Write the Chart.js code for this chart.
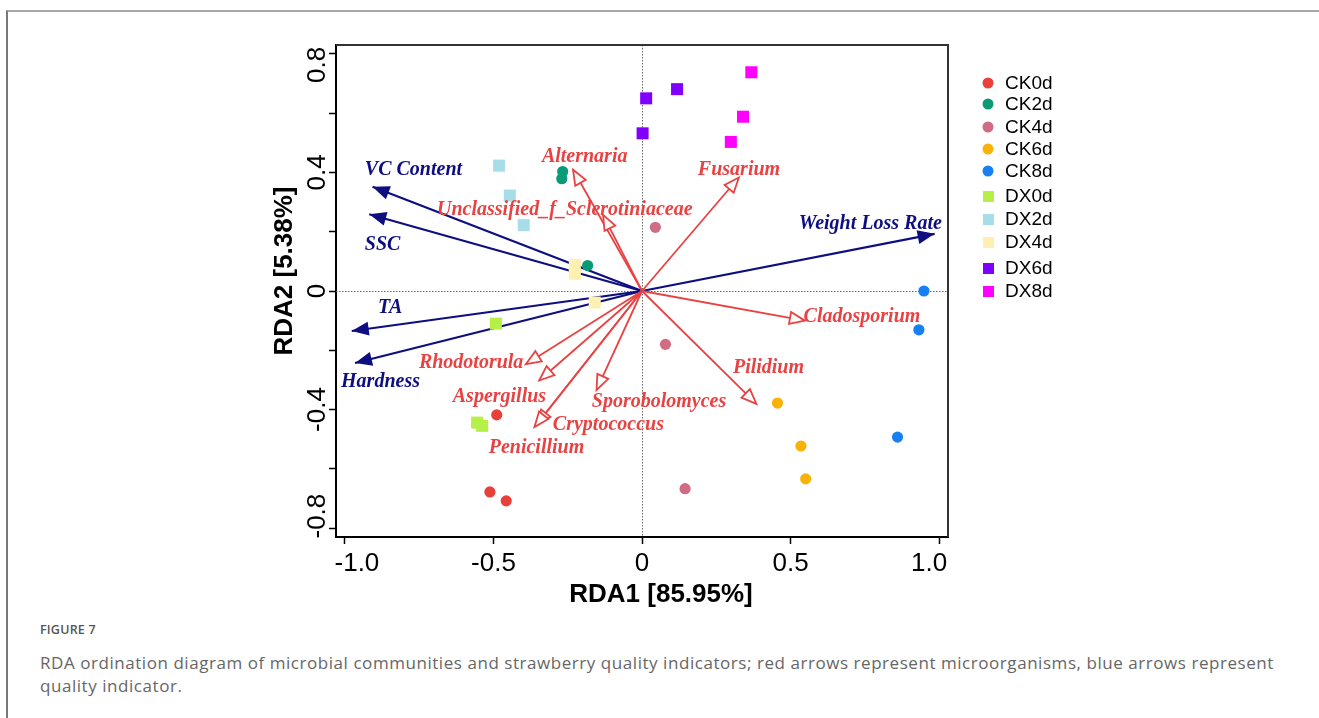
<!DOCTYPE html>
<html>
<head>
<meta charset="utf-8">
<script src="https://cdn.jsdelivr.net/npm/chart.js@4.4.0/dist/chart.umd.min.js"></script>
<style>
  html, body { margin: 0; padding: 0; background: #fff; }
  body { width: 1319px; height: 718px; position: relative; overflow: hidden; }
  #frame { position: absolute; left: 6px; top: 10px; right: 0; bottom: 0;
           border-top: 2px solid #a8a8a8; border-left: 2px solid #777; }
  #wrap { position: absolute; left: 0; top: 0; width: 1319px; height: 620px; }
  #fig { position: absolute; left: 40px; top: 621px; font: 600 12.5px "Open Sans", sans-serif;
         color: #555; letter-spacing: 0.2px; }
  #caption { position: absolute; left: 40px; top: 651px; font: 17px "Open Sans", sans-serif;
             color: #666; line-height: 23px; white-space: nowrap; letter-spacing: 0.55px; }
</style>
</head>
<body>
<div id="frame"></div>
<div id="wrap"><canvas id="rda" width="1319" height="620"></canvas></div>
<div id="fig">FIGURE 7</div>
<div id="caption">RDA ordination diagram of microbial communities and strawberry quality indicators; red arrows represent microorganisms, blue arrows represent<br>quality indicator.</div>
<script>
// Grupos de amostras (3 repetições cada)
const groups = ['CK0d', 'CK2d', 'CK4d', 'CK6d', 'CK8d', 'DX0d', 'DX2d', 'DX4d', 'DX6d', 'DX8d'];
const groupColors = ['#e8413c', '#0a9b76', '#cf6d85', '#f9b208', '#1780f2',
                     '#b6ef45', '#a6dde9', '#fdf0b0', '#7f00ff', '#ff00ff'];
const groupShapes = ['circle', 'circle', 'circle', 'circle', 'circle', 'rect', 'rect', 'rect', 'rect', 'rect'];

const sampleRDA1 = [
    [-0.489, -0.512, -0.457],
    [-0.267, -0.270, -0.183],
    [0.045, 0.079, 0.145],
    [0.456, 0.535, 0.551],
    [0.949, 0.932, 0.860],
    [-0.492, -0.555, -0.538],
    [-0.481, -0.445, -0.398],
    [-0.226, -0.226, -0.159],
    [0.014, 0.002, 0.118],
    [0.368, 0.340, 0.299]
];
const sampleRDA2 = [
    [-0.418, -0.678, -0.708],
    [0.403, 0.379, 0.086],
    [0.215, -0.180, -0.667],
    [-0.378, -0.523, -0.634],
    [0.000, -0.131, -0.493],
    [-0.110, -0.444, -0.455],
    [0.423, 0.322, 0.222],
    [0.088, 0.058, -0.039],
    [0.650, 0.532, 0.681],
    [0.738, 0.588, 0.503]
];

// Indicadores de qualidade (setas azuis)
const envVars = ['VC Content', 'SSC', 'TA', 'Hardness', 'Weight Loss Rate'];
const envRDA1 = [-0.907, -0.918, -0.977, -0.966, 0.985];
const envRDA2 = [0.352, 0.259, -0.135, -0.243, 0.193];

// Microrganismos (setas vermelhas)
const taxa = ['Alternaria', 'Unclassified_f_Sclerotiniaceae', 'Fusarium', 'Cladosporium', 'Pilidium',
              'Rhodotorula', 'Aspergillus', 'Sporobolomyces', 'Cryptococcus', 'Penicillium'];
const taxaRDA1 = [-0.232, -0.131, 0.326, 0.548, 0.385, -0.391, -0.346, -0.153, -0.355, -0.362];
const taxaRDA2 = [0.409, 0.257, 0.383, -0.100, -0.381, -0.247, -0.302, -0.334, -0.452, -0.459];

// Ticks
const xTickValues = [-1.0, -0.5, 0, 0.5, 1.0];
const yTickValues = [-0.8, -0.6, -0.4, -0.2, 0, 0.2, 0.4, 0.6, 0.8];
const yLabelValues = [-0.8, -0.4, 0, 0.4, 0.8];

// Onde ficam os rótulos (coordenadas do gráfico, canto esquerdo do texto)
const envLabelPos = [[-0.933, 0.408], [-0.933, 0.156], [-0.889, -0.057], [-1.013, -0.307], [0.528, 0.226]];
const taxaLabelPos = [[-0.337, 0.452], [-0.690, 0.274], [0.188, 0.409], [0.544, -0.087], [0.306, -0.259],
                      [-0.751, -0.242], [-0.637, -0.357], [-0.169, -0.374], [-0.300, -0.451], [-0.516, -0.529]];

const NAVY = '#0e0e80';
const RED = '#e84242';
const EDGE_NUDGE = 12; // rótulos das pontas ficam um pouco para dentro, como no original
const fmt = v => (v === 0 ? '0' : v.toFixed(1));

const datasets = [];
groups.forEach((g, i) => {
    datasets.push({
        label: g,
        data: sampleRDA1[i].map((x, k) => ({ x: x, y: sampleRDA2[i][k] })),
        pointStyle: groupShapes[i],
        pointRadius: groupShapes[i] === 'rect' ? 8.5 : 5.6,
        backgroundColor: groupColors[i],
        borderColor: groupColors[i],
        borderWidth: 0,
        order: 0
    });
});
envVars.forEach((v, i) => {
    datasets.push({
        label: v, arrow: 'env',
        data: [{ x: 0, y: 0 }, { x: envRDA1[i], y: envRDA2[i] }],
        showLine: true, pointRadius: 0, borderColor: NAVY, borderWidth: 2.2, order: 2
    });
});
taxa.forEach((t, i) => {
    datasets.push({
        label: t, arrow: 'taxa',
        data: [{ x: 0, y: 0 }, { x: taxaRDA1[i], y: taxaRDA2[i] }],
        showLine: true, pointRadius: 0, borderColor: RED, borderWidth: 1.8, order: 1
    });
});

function arrowHead(ctx, x0, y0, x1, y1, len, half, filled, color) {
    const a = Math.atan2(y1 - y0, x1 - x0);
    const bx = x1 - len * Math.cos(a), by = y1 - len * Math.sin(a);
    ctx.beginPath();
    ctx.moveTo(x1, y1);
    ctx.lineTo(bx - half * Math.sin(a), by + half * Math.cos(a));
    ctx.lineTo(bx + half * Math.sin(a), by - half * Math.cos(a));
    ctx.closePath();
    if (filled) {
        ctx.fillStyle = color;
        ctx.fill();
    } else {
        ctx.fillStyle = '#fff';
        ctx.fill();
        ctx.strokeStyle = color;
        ctx.lineWidth = 1.8;
        ctx.stroke();
    }
}

const rdaDecor = {
    id: 'rdaDecor',
    beforeDatasetsDraw(chart) {
        const { ctx, chartArea: ca, scales: { x, y } } = chart;
        ctx.save();
        ctx.strokeStyle = '#666';
        ctx.lineWidth = 1;
        ctx.setLineDash([1.5, 1.5]);
        const x0 = Math.round(x.getPixelForValue(0)) + 0.5;
        const y0 = Math.round(y.getPixelForValue(0)) + 0.5;
        ctx.beginPath();
        ctx.moveTo(ca.left, y0); ctx.lineTo(ca.right, y0);
        ctx.moveTo(x0, ca.top); ctx.lineTo(x0, ca.bottom);
        ctx.stroke();
        ctx.restore();
    },
    afterDatasetsDraw(chart) {
        const { ctx, scales: { x, y } } = chart;
        const ox = x.getPixelForValue(0), oy = y.getPixelForValue(0);
        ctx.save();
        envVars.forEach((v, i) => {
            arrowHead(ctx, ox, oy, x.getPixelForValue(envRDA1[i]), y.getPixelForValue(envRDA2[i]), 17, 7, true, NAVY);
        });
        taxa.forEach((t, i) => {
            arrowHead(ctx, ox, oy, x.getPixelForValue(taxaRDA1[i]), y.getPixelForValue(taxaRDA2[i]), 15, 6, false, RED);
        });
        ctx.font = 'bold italic 20px "Liberation Serif", "Times New Roman", serif';
        ctx.textAlign = 'left';
        ctx.textBaseline = 'middle';
        ctx.fillStyle = NAVY;
        envVars.forEach((v, i) => {
            ctx.fillText(v, x.getPixelForValue(envLabelPos[i][0]), y.getPixelForValue(envLabelPos[i][1]));
        });
        ctx.fillStyle = RED;
        taxa.forEach((t, i) => {
            ctx.fillText(t, x.getPixelForValue(taxaLabelPos[i][0]), y.getPixelForValue(taxaLabelPos[i][1]));
        });
        ctx.restore();
    },
    afterDraw(chart) {
        const { ctx, chartArea: ca, scales: { x, y } } = chart;
        ctx.save();
        // moldura superior e direita
        ctx.strokeStyle = '#333';
        ctx.lineWidth = 2;
        ctx.beginPath();
        ctx.moveTo(ca.left, ca.top); ctx.lineTo(ca.right, ca.top); ctx.lineTo(ca.right, ca.bottom);
        ctx.stroke();
        // rótulos dos ticks
        ctx.fillStyle = '#000';
        ctx.font = '26px "Liberation Sans", Arial, sans-serif';
        ctx.textAlign = 'center';
        ctx.textBaseline = 'middle';
        const xFirst = xTickValues[0], xLast = xTickValues[xTickValues.length - 1];
        xTickValues.forEach(v => {
            const nudge = v === xFirst ? EDGE_NUDGE : (v === xLast ? -EDGE_NUDGE + 2 : 0);
            ctx.fillText(fmt(v), x.getPixelForValue(v) + nudge, ca.bottom + 27);
        });
        const yFirst = yLabelValues[0], yLast = yLabelValues[yLabelValues.length - 1];
        yLabelValues.forEach(v => {
            const nudge = v === yFirst ? -EDGE_NUDGE : (v === yLast ? EDGE_NUDGE - 1 : 0);
            ctx.save();
            ctx.translate(ca.left - 18, y.getPixelForValue(v) + nudge);
            ctx.rotate(-Math.PI / 2);
            ctx.fillText(fmt(v), 0, 0);
            ctx.restore();
        });
        // títulos dos eixos
        ctx.font = 'bold 26px "Liberation Sans", Arial, sans-serif';
        ctx.fillText('RDA1 [85.95%]', 661, 595);
        ctx.save();
        ctx.translate(285, 271);
        ctx.rotate(-Math.PI / 2);
        ctx.fillText('RDA2 [5.38%]', 0, 0);
        ctx.restore();
        // legenda
        const legendY = [83, 104, 127, 149, 171, 196, 219, 242, 268, 291];
        ctx.font = '19px "Liberation Sans", Arial, sans-serif';
        ctx.textAlign = 'left';
        groups.forEach((g, i) => {
            ctx.fillStyle = groupColors[i];
            if (groupShapes[i] === 'circle') {
                ctx.beginPath();
                ctx.arc(988, legendY[i], 5.5, 0, Math.PI * 2);
                ctx.fill();
            } else {
                ctx.fillRect(983, legendY[i] - 5, 11, 11);
            }
            ctx.fillStyle = '#000';
            ctx.fillText(g, 1005, legendY[i] + 1);
        });
        ctx.restore();
    }
};

new Chart(document.getElementById('rda'), {
    type: 'scatter',
    data: { datasets: datasets },
    options: {
        responsive: false,
        animation: false,
        layout: { padding: { left: 296, right: 371, top: 45, bottom: 23 } },
        plugins: { legend: { display: false }, tooltip: { enabled: false } },
        scales: {
            x: {
                min: -1.03, max: 1.03,
                afterBuildTicks: s => { s.ticks = xTickValues.map(v => ({ value: v })); },
                afterFit: s => { s.height = 60; },
                grid: { drawOnChartArea: false, drawTicks: true, tickLength: 7, tickColor: '#000', tickWidth: 1.5 },
                border: { color: '#000', width: 2 },
                ticks: { display: false }
            },
            y: {
                min: -0.83, max: 0.83,
                afterBuildTicks: s => { s.ticks = yTickValues.map(v => ({ value: v })); },
                afterFit: s => { s.width = 40; },
                grid: { drawOnChartArea: false, drawTicks: true, tickLength: 7, tickColor: '#000', tickWidth: 1.5 },
                border: { color: '#000', width: 2 },
                ticks: { display: false }
            }
        }
    },
    plugins: [rdaDecor]
});
</script>
</body>
</html>
